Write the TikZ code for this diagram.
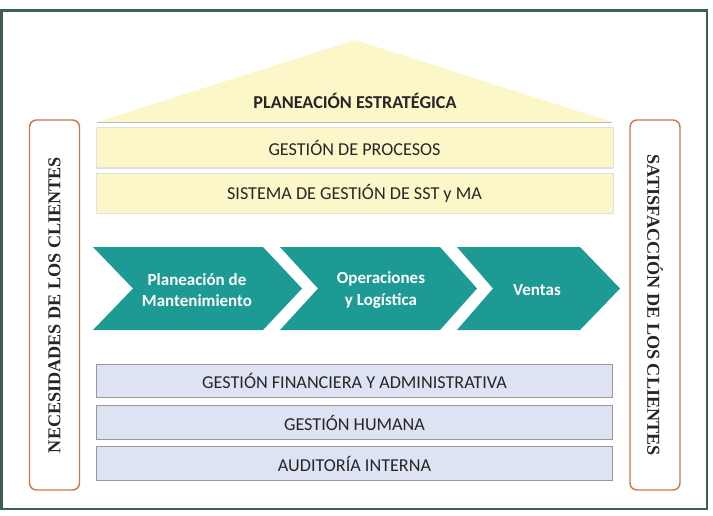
\documentclass[tikz,border=0pt]{standalone}
\usepackage{fontspec}
\setmainfont{Carlito}
\newfontfamily\sidefont{Liberation Serif}
\usepackage{tikz}
\usetikzlibrary{positioning,shadows}

\definecolor{FrameGreen}{HTML}{3F5E57}
\definecolor{RoofYellow}{HTML}{FCF7C9}
\definecolor{TealArrow}{HTML}{1C9A93}
\definecolor{BarBlue}{HTML}{DDE3F3}
\definecolor{SideOrange}{HTML}{C8784A}
\definecolor{TextGray}{HTML}{262626}

\begin{document}
\begin{tikzpicture}[x=0.03cm, y=-0.03cm,
    yellowbar/.style={rectangle, fill=RoofYellow, draw=black!12, minimum width=15.5cm, minimum height=1.2cm, inner sep=0pt, text=TextGray, font=\fontsize{15.5}{18}\selectfont, drop shadow={shadow xshift=0pt, shadow yshift=-1.2pt, opacity=0.25}},
    bluebar/.style={rectangle, fill=BarBlue, draw=black!40, thick, minimum width=15.5cm, minimum height=1.0cm, inner sep=0pt, text=TextGray, font=\fontsize{15.5}{18}\selectfont},
    chevron/.style={fill=TealArrow},
    chevtext/.style={text=white, align=center, font=\bfseries\fontsize{14.5}{18}\selectfont},
    sidebox/.style={rectangle, draw=SideOrange, line width=1.2pt, rounded corners=6pt, minimum width=11.1cm, minimum height=1.5cm, inner sep=0pt, text=TextGray, font=\sidefont\bfseries\fontsize{15.5}{18}\selectfont}]

    \useasboundingbox (0,0) rectangle (713,516);
    \fill [white] (0,0) rectangle (713,516);
    \draw [FrameGreen, line width=2.5pt] (1.5,10.5) rectangle (707,509);

    % roof
    \coordinate (roofL) at (97,122);
    \coordinate (apex) at (355,40);
    \coordinate (roofR) at (612,122);
    \fill [RoofYellow] (roofL) -- (apex) -- (roofR) -- cycle;
    \draw [black!25, thick] (roofL) -- (roofR);
    \node [text=TextGray, font=\bfseries\fontsize{15.5}{18}\selectfont] (plan) at (355,101) {PLANEACIÓN ESTRATÉGICA};

    \node [yellowbar] (procesos) at (354.5,147.5) {GESTIÓN DE PROCESOS};
    \node [yellowbar, below=0.15cm of procesos] (sst) {SISTEMA DE GESTIÓN DE SST y MA};

    % value chain
    \fill [chevron] (93,247) -- (263,247) -- (302,288.5) -- (263,330) -- (93,330) -- (133,288.5) -- cycle;
    \fill [chevron] (280,247) -- (440,247) -- (477,288.5) -- (440,330) -- (280,330) -- (318,288.5) -- cycle;
    \fill [chevron] (457,247) -- (580,247) -- (620,288.5) -- (580,330) -- (457,330) -- (493,288.5) -- cycle;
    \node [chevtext] (mant) at (197,290) {Planeación de\\Mantenimiento};
    \node [chevtext] (oper) at (381,290) {Operaciones\\y Logística};
    \node [chevtext] (ventas) at (537,290) {Ventas};

    \node [bluebar] (financ) at (354.5,381) {GESTIÓN FINANCIERA Y ADMINISTRATIVA};
    \node [bluebar, below=0.22cm of financ] (humana) {GESTIÓN HUMANA};
    \node [bluebar, below=0.2cm of humana] (audit) {AUDITORÍA INTERNA};

    \node [sidebox, rotate=90] (necesidades) at (54.5,305) {NECESIDADES DE LOS CLIENTES};
    \node [sidebox, rotate=-90] (satisfaccion) at (655,305) {SATISFACCIÓN DE LOS CLIENTES};
\end{tikzpicture}
\end{document}
